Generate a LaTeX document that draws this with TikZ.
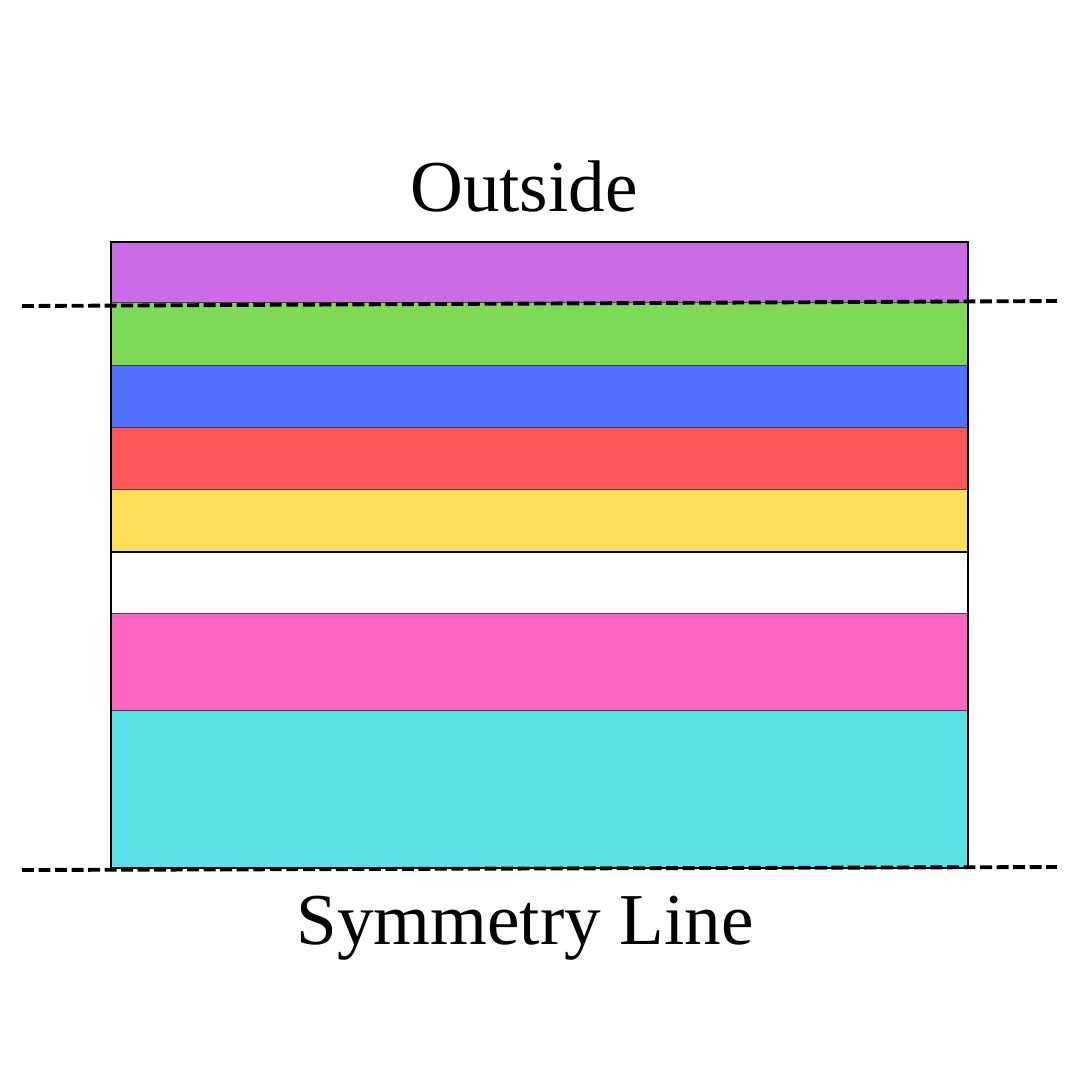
\documentclass[tikz,border=0pt]{standalone}
\usepackage{fontspec}
\setmainfont{Liberation Serif}
\definecolor{layerA}{HTML}{CB6CE6}
\definecolor{layerB}{HTML}{7ED957}
\definecolor{layerC}{HTML}{5271FF}
\definecolor{layerD}{HTML}{FF5757}
\definecolor{layerE}{HTML}{FFDE59}
\definecolor{layerF}{HTML}{FFFFFF}
\definecolor{layerG}{HTML}{FF66C4}
\definecolor{layerH}{HTML}{5CE1E6}
\begin{document}
\begin{tikzpicture}[
    x=0.1mm,y=-0.1mm,
    every node/.style={font=\fontsize{20.8}{25}\selectfont},
    cutline/.style={line width=1.1pt,dash pattern=on 3.4pt off 1.3pt}]
    \useasboundingbox (0,0) rectangle (1080,1080);
    \def\xl{111}
    \def\xr{968}

    % layers: top, bottom, colour
    \foreach \ya/\yb/\cc in {242/303/layerA,303/366/layerB,366/428/layerC,
        428/490/layerD,490/552/layerE,552/614/layerF,614/711/layerG,711/868/layerH} {
        \fill[\cc] (\xl,\ya) rectangle (\xr,\yb);
        \draw[black!75,line width=0.4pt] (\xl,\yb) -- (\xr,\yb);
    }
    \draw[black,line width=0.5pt] (\xl,242) rectangle (\xr,868);
    \draw[black,line width=0.6pt] (\xl,552) -- (\xr,552);

    \coordinate (topL) at (22,306);
    \coordinate (topR) at (1057,301);
    \coordinate (botL) at (22,870);
    \coordinate (botR) at (1057,867);
    \draw[cutline] (topL) -- (topR);
    \draw[cutline] (botL) -- (botR);

    \node[anchor=base] (outside) at (524,211) {Outside};
    \node[anchor=base] (symline) at (525,944) {Symmetry Line};
\end{tikzpicture}
\end{document}
